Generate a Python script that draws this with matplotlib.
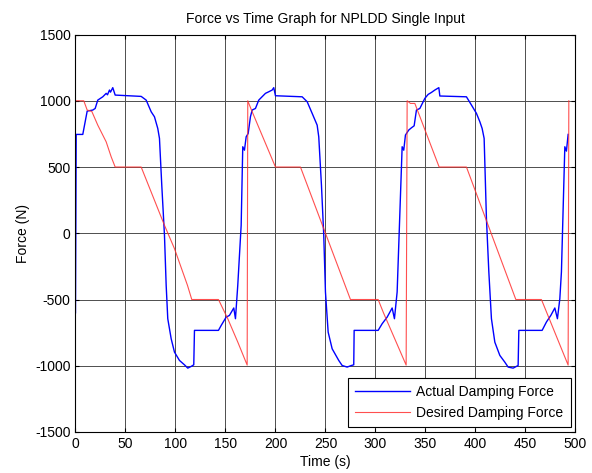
import numpy as np
import matplotlib
matplotlib.use("Agg")
import matplotlib.pyplot as plt

plt.rcParams['font.family'] = ['Liberation Sans', 'DejaVu Sans']
plt.rcParams['axes.unicode_minus'] = False

# desired damping force (red), breakpoints
t_desired = [0, 8.3, 11.7, 16.3, 22.3, 30.7, 35.7, 39.7, 65.7, 89, 99, 112, 116.3, 143,
             152.3, 162.3, 171.7, 172.3, 176, 200, 225, 275, 302.7, 308, 330.7, 331.7,
             335, 339.4, 363.7, 391, 440.4, 466, 492.7, 493.4]
f_desired = [1000, 1000, 930, 920, 816, 690, 577, 500, 500, 60, -116, -393, -500, -500,
             -645, -821, -995, 1000, 930, 500, 500, -500, -500, -600, -995, 1000,
             980, 980, 500, 500, -500, -500, -995, 1000]

# actual damping force (blue)
t_actual = [0, 0.7, 7.3, 11.7, 17.3, 19.7, 22.3, 27.3, 30.7, 32, 34, 35, 37.3, 39.7, 65.7,
            70.7, 75.7, 79, 82.3, 84, 86.3, 89, 90.7, 92.3, 95.7, 99, 104, 109, 112.3,
            115.7, 118.3, 119, 143, 145.7, 150.7, 154, 158.3, 160, 162.3, 165.7, 167.3,
            169, 170.7, 172.7, 175, 176.7, 180, 183.3, 190, 193.3, 196.7, 198.3, 200,
            226.7, 231.7, 236.7, 241.7, 243.3, 246, 248.3, 250, 252.7, 256.7, 263.3,
            266.7, 271.7, 276, 278.3, 278.7, 302.7, 306.7, 311.7, 316.7, 319, 321.7, 324,
            326.7, 328.3, 330, 333.3, 336, 338.7, 341, 344.4, 349.4, 352.7, 356, 359.4,
            363.4, 364.4, 391, 396, 401, 404.4, 406.7, 408.7, 411, 413.4, 416, 419.4,
            424.4, 429.4, 432.7, 437.7, 442.7, 443.4, 466.7, 471, 475.4, 479.4, 482,
            484.4, 486, 489.4, 491, 492.7]
f_actual = [-600, 746, 746, 922, 930, 942, 1005, 1030, 1056, 1045, 1081, 1065, 1099, 1043,
            1033, 1005, 917, 879, 791, 716, 363, -15, -393, -645, -796, -897, -960, -993,
            -1018, -1005, -993, -733, -733, -696, -633, -620, -564, -645, -393, 60, 653,
            627, 728, 753, 880, 930, 942, 1005, 1056, 1068, 1081, 1099, 1038,
            1030, 993, 905, 816, 728, 363, -15, -443, -746, -872, -960,
            -998, -1010, -998, -993, -733, -733, -683, -633, -564, -645, -443, 60,
            653, 627, 741, 779, 796, 811, 930, 942, 1018, 1048, 1063, 1081,
            1099, 1036, 1030, 968, 905, 842, 791, 716, 111, -292, -645, -822,
            -922, -973, -1010, -1018, -998, -733, -733, -670, -620, -564, -645,
            -494, -292, 653, 620, 746]

fig = plt.figure(figsize=(5.92, 4.73), dpi=100)
ax = fig.add_axes([0.1275, 0.0867, 0.8445, 0.8403])

ax.plot(t_actual, f_actual, color='#0000ff', lw=1.0, label='Actual Damping Force')
ax.plot(t_desired, f_desired, color='#ff3030', lw=0.8, alpha=0.85,
        label='Desired Damping Force')

ax.set_xlim(0, 500)
ax.set_ylim(-1500, 1500)
ax.set_xticks(np.arange(0, 501, 50))
ax.set_yticks(np.arange(-1500, 1501, 500))
ax.grid(True, color='0.3', lw=0.7, ls='-')
ax.tick_params(direction='in', top=True, right=True, length=3, labelsize=10)
for s in ax.spines.values():
    s.set_linewidth(0.8)

ax.set_title('Force vs Time Graph for NPLDD Single Input', fontsize=10, pad=8)
ax.set_xlabel('Time (s)', fontsize=10, labelpad=3)
ax.set_ylabel('Force (N)', fontsize=10)

leg = ax.legend(loc='lower right', fancybox=False, framealpha=1, edgecolor='black',
                fontsize=10, handlelength=3.9, borderaxespad=0.35, borderpad=0.5,
                labelspacing=0.5, handletextpad=0.5)
leg.get_frame().set_linewidth(0.8)

fig.savefig('out.png', dpi=100)
